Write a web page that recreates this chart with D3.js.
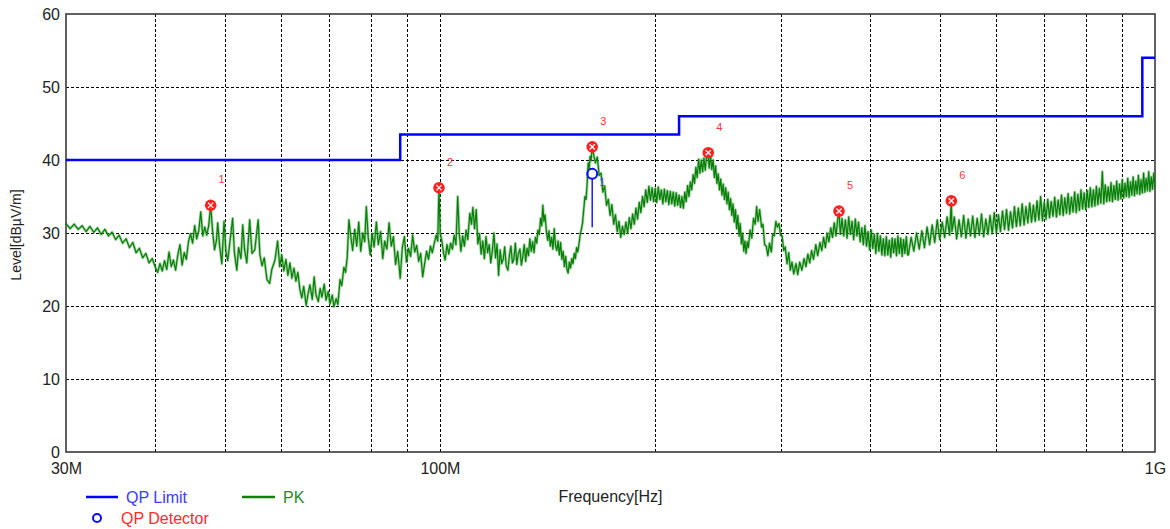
<!DOCTYPE html>
<html>
<head>
<meta charset="utf-8">
<script src="https://cdn.jsdelivr.net/npm/d3@7"></script>
<style>
  html, body { margin: 0; padding: 0; background: #fff; }
  svg { display: block; font-family: "Liberation Sans", Arial, sans-serif; }
</style>
</head>
<body>
<svg id="chart" width="1170" height="529"></svg>
<script>
// ---------- data ----------
const yTickValues = [0, 10, 20, 30, 40, 50, 60];
const xLabelFreqs = [30, 100, 1000];               // MHz
const xLabelTexts = ["30M", "100M", "1G"];
const gridFreqs = [40, 50, 60, 70, 80, 90, 100, 200, 300, 400, 500, 600, 700, 800, 900];

// QP limit (step line), MHz / dBµV/m
const limitFreqs  = [30, 88, 216, 960, 1000];
const limitLevels = [40, 43.5, 46, 54, 54];

// peak markers
const peakFreqs  = [47.8, 99.7, 163.3, 237.3, 361.5, 519];
const peakLevels = [33.8, 36.2, 41.8, 41.0, 33.0, 34.4];

// quasi-peak detector reading
const qpFreqs       = [163.3];
const qpLevels      = [38.1];
const qpStemLevels  = [30.8];

// PK sweep, [MHz, dBµV/m]
const pkTrace = [
  [30.0,31.3],[30.4,30.6],[30.8,31.2],[31.2,30.5],[31.6,31.0],[32.0,30.2],[32.4,30.9],[32.8,30.1],[33.2,30.7],[33.6,29.8],
  [34.0,30.5],[34.4,29.6],[34.8,30.1],[35.2,29.1],[35.6,29.7],[36.0,28.6],[36.4,29.2],[36.8,28.0],[37.2,28.7],[37.6,27.3],
  [38.0,27.9],[38.4,26.6],[38.8,27.2],[39.2,25.9],[39.6,26.5],[40.0,25.3],
  [40.3,24.6],[40.6,25.8],[40.9,24.8],[41.2,26.2],[41.5,25.0],[41.8,27.4],[42.1,25.4],[42.4,26.3],[42.7,24.9],[43.0,27.0],
  [43.3,28.4],[43.6,25.6],[43.9,27.3],[44.2,26.4],[44.5,28.8],[44.8,29.9],[45.1,28.6],[45.4,31.0],[45.7,29.2],[46.0,30.3],
  [46.3,32.9],[46.6,29.6],[46.9,30.8],[47.2,29.7],[47.5,31.0],[47.8,33.8],[48.1,30.2],[48.4,27.7],[48.7,29.0],
  [48.9,31.4],[49.2,28.2],[49.55,25.8],[49.9,31.6],[50.2,27.5],[50.5,26.2],[50.9,29.1],[51.3,32.0],[51.6,27.3],[52.0,24.9],
  [52.3,28.0],[52.7,26.5],[53.0,31.1],[53.3,27.8],[53.7,25.9],[54.0,29.4],[54.2,31.8],[54.6,27.2],[55.1,27.7],[55.4,29.8],
  [55.7,31.8],[56.0,27.1],[56.4,25.5],[56.8,26.6],[57.3,23.6],[57.8,23.1],[58.2,25.0],[58.8,26.3],[59.3,28.9],[59.7,25.4],[60.1,27.0],
  [60.5,24.8],[60.9,26.4],[61.3,24.2],[61.7,25.9],[62.1,23.8],[62.5,25.2],[62.9,23.4],[63.3,24.6],[63.7,22.3],[64.1,21.1],
  [64.5,22.7],[65.0,20.1],[65.4,21.6],[65.8,22.9],[66.3,20.9],[66.7,24.0],[67.1,21.5],[67.6,20.6],[68.0,22.4],[68.4,21.2],
  [68.9,23.0],[69.3,20.8],[69.8,22.0],[70.2,20.3],[70.7,21.5],[71.1,19.9],[71.6,21.0],[72.0,20.2],[72.5,23.6],[72.9,22.8],
  [73.4,25.3],[73.8,24.6],[74.2,26.7],[74.6,31.8],
  [75.0,29.8],[75.5,27.6],[76.0,30.5],[76.5,28.2],[77.0,31.5],[77.5,27.5],[78.0,30.0],[78.5,28.8],[78.9,33.6],[79.4,29.3],
  [79.9,27.0],[80.4,29.9],[80.9,28.1],[81.5,31.5],[82.0,28.4],[82.6,30.2],[83.2,26.5],[83.7,28.9],[84.3,27.8],[84.9,31.4],
  [85.5,28.2],[86.1,29.5],[86.7,25.7],[87.3,27.5],[88.0,23.8],[88.6,28.0],[89.2,29.5],[89.8,26.0],[90.4,27.9],[91.0,26.8],
  [91.6,29.7],[92.2,27.4],[92.8,28.3],[93.4,26.1],[94.0,27.2],[94.6,24.0],[95.2,25.8],[95.8,27.5],[96.4,26.4],[97.0,28.2],
  [97.6,27.3],[98.2,28.6],[98.8,29.7],[99.3,28.9],[99.7,36.2],[100.1,29.9],
  [100.6,29.0],[101.2,27.2],[101.7,26.3],[102.3,28.4],[102.9,27.1],[103.5,28.6],[104.1,27.8],[104.7,29.7],[105.3,28.4],[105.9,35.0],
  [106.4,30.1],[107.0,27.5],[107.6,29.6],[108.2,28.2],[108.8,30.4],[109.4,29.1],[110.1,32.7],[110.7,31.2],[111.2,33.5],[111.8,30.6],
  [112.4,33.2],[113.0,28.5],[113.6,29.9],[114.2,27.1],[114.8,28.9],[115.4,26.5],[116.0,29.5],[116.6,27.3],[117.2,28.4],[117.8,25.9],
  [118.4,27.6],[119.0,30.0],[119.6,26.6],[120.2,28.5],[120.8,24.2],[121.4,27.7],[122.0,25.8],[122.6,26.4],[123.2,28.1],[123.8,25.5],
  [124.5,24.9],[125.1,27.0],[125.7,28.2],[126.3,25.9],[126.9,26.4],[127.5,28.6],[128.1,25.7],[128.7,27.1],[129.4,27.8],[130.0,25.6],
  [130.6,26.8],[131.2,28.4],[131.8,26.1],[132.4,27.9],[133.0,26.9],[133.6,29.2],[134.2,27.5],[134.8,28.8],[135.4,27.3],[136.0,29.4],
  [136.6,28.6],[137.1,30.4],[137.7,29.8],[138.3,32.0],[138.8,31.0],[139.3,33.8],[139.8,31.6],[140.3,32.5],[140.9,30.2],[141.5,29.0],
  [142.1,30.3],[142.7,28.2],[143.3,29.4],[143.9,27.8],[144.5,30.6],[145.1,28.3],[145.7,27.6],[146.3,28.9],[146.9,27.0],[147.5,28.7],
  [148.1,26.4],[148.7,27.5],[149.3,25.4],[149.9,26.8],[150.5,25.1],[151.1,24.5],[151.7,26.0],[152.3,25.2],[152.9,26.5],[153.5,25.8],
  [154.1,27.2],[154.7,26.5],[155.3,28.0],[155.9,27.4],[156.5,28.5],[157.1,29.8],[157.7,30.5],[158.3,31.4],[158.9,33.2],[159.5,35.0],
  [160.1,34.6],[160.6,36.5],[161.2,39.6],[161.7,38.8],[162.2,40.5],[162.7,39.9],[163.3,41.8],
  [164,40.8],[165,39.6],[166,40.4],[167,37.9],[168,38.2],[169,35.6],[170,36.4],[171,33.8],[172,34.6],[173,32.4],
  [174,33.9],[175,31.2],[176,32.5],[177,30.2],[178,31.6],[179,29.4],[180,30.9],[181,29.8],[182,31.5],[183,30.0],
  [184,32.1],[185,30.6],[186,32.6],[187,31.2],[188,33.4],[189,31.9],[190,34.2],[191,32.8],[192,35.0],[193,33.6],
  [194,35.9],[195,34.2],[196,36.4],[197,34.5],[198,36.2],[199,34.3],[200,36.1],[201,34.2],[202,36.3],[203,34.6],
  [204,35.9],[205,34.0],[206,36.0],[207,34.3],[208,35.8],[209,33.9],[210,35.7],[211,34.0],[212,35.6],[213,33.7],
  [214,35.5],[215,33.8],[216,35.2],[217,33.5],[218,35.0],[219,33.4],[220,35.6],[221,34.3],[222,36.5],[223,35.0],
  [224,37.0],[225,35.9],[226,38.0],[227,36.8],[228,39.0],[229,37.6],[230,40.1],[231,38.2],[232,40.0],[233,38.4],
  [234,40.3],[235,38.6],[236,40.5],[237,41.0],[238,38.9],[239,40.6],[240,38.7],
  [241,40.0],[242,37.6],[243,39.2],[244,36.8],[245,38.1],[246,35.9],[247,37.4],[248,35.2],[249,36.7],[250,34.6],
  [251,36.2],[252,34.0],[253,35.6],[254,33.2],[255,34.7],[256,32.4],[257,34.0],[258,31.5],[259,33.2],[260,30.6],
  [261,32.4],[262,29.6],[263,31.3],[264,28.5],[265,30.0],[266,27.5],[267,28.9],[268,27.2],[269,28.8],[270,28.0],
  [271.5,30.4],[273,29.3],[274.5,32.0],[276,31.2],[277.3,33.6],[278.5,31.6],[280,33.2],[281.7,30.8],[283,31.2],[284.5,28.4],
  [286,28.2],[287.5,26.9],[289,28.6],[290.7,27.4],[292,29.8],[293.5,29.6],[295,31.6],[296.3,30.8],[298,31.3],[299.5,29.7],
  [301,29.6],[302.5,27.6],[304,28.1],[305.8,25.8],[307.5,27.3],[309,24.9],[310.7,26.0],[312.5,24.4],[314.7,25.8],[316.5,24.3],
  [318.5,26.0],[320.8,24.9],[323,26.5],[325,25.4],[327,27.1],[329,25.9],[331,27.6],[333,26.4],[335.5,28.4],[337.5,26.9],
  [340,28.7],[342,27.6],[344,29.4],[346,28.0],[348,30.0],[350,28.8],[352,30.7],[354,29.4],[356,31.4],[358,29.6],
  [360,31.9],[361.5,33.0],[363,29.8],[365,32.0],[367,29.6],[369,31.8],[371,29.3],[373,32.2],[375,29.8],[377,31.6],
  [379,29.1],[381,31.9],[383,29.6],[385,31.5],[387,28.8],[389,30.7],[391,28.4],[393,31.0],[395,28.2],[397,30.2],
  [399,27.7],[401,30.4],[403,27.9],[405,29.8],[407,27.2],[409,29.9],[411,27.5],[413,29.6],[415,27.0],[417,29.2],
  [419,26.9],[421,29.5],[423,27.0],[425,29.0],[427,26.7],[429,29.3],[431,27.3],[433,29.2],[435,26.9],[437,29.6],
  [439,27.2],[441,29.3],[443,26.8],[445,29.1],[447,27.2],[449,29.5],[451,27.0],
  [452,27.0],[456,29.4],[460,27.5],[464,30.0],[468,27.8],[472,30.3],[476,28.0],[480,30.8],[484,28.4],[488,31.1],
  [492,28.7],[496,31.8],[500,29.1],[504,31.5],[508,29.4],[512,32.2],[516,29.7],[519,34.4],[520,30.2],[524,32.2],
  [528,29.2],[532,31.8],[536,29.5],[540,32.4],[544,29.3],[548,31.9],[552,29.6],[556,32.3],[560,29.4],[564,32.0],
  [568,29.7],[572,32.6],[576,29.5],[580,31.9],[584,29.8],[588,32.4],[592,29.9],[596,32.8],[600,30.0],[604,32.5],
  [608,30.2],[612,33.0],[616,30.5],[620,33.2],[624,30.4],[628,32.9],[632,30.7],[636,33.6],[640,30.9],[644,33.4],
  [648,31.0],[652,34.0],[656,31.1],[660,33.6],[664,31.4],[668,34.1],[672,31.5],[676,33.8],[680,31.6],[684,34.4],
  [688,31.8],[692,35.0],[696,31.7],[700,34.2],[704,31.9],[708,34.6],[712,32.1],[716,34.3],[720,32.3],[724,34.9],
  [728,32.2],[732,34.5],[736,32.5],[740,35.2],[744,32.4],[748,34.8],[752,32.7],[756,35.4],[760,32.6],[764,34.9],
  [768,32.9],[772,35.6],[776,32.8],[780,35.3],[784,33.1],[788,35.9],[792,33.3],[796,35.5],[800,33.2],[804,35.8],
  [808,33.5],[812,36.2],[816,33.6],[820,35.9],[824,33.7],[828,36.4],[832,33.9],[836,36.1],[840,34.1],[844,38.4],
  [848,34.0],[852,36.6],[856,34.3],[860,36.3],[864,34.4],[868,36.9],[872,34.3],[876,36.5],[880,34.6],[884,37.1],
  [888,34.5],[892,36.7],[896,34.7],[900,37.3],[904,34.8],[908,36.8],[912,35.0],[916,37.5],[920,34.9],[924,37.0],
  [928,35.2],[932,37.7],[936,35.1],[940,37.1],[944,35.4],[948,37.9],[952,35.3],[956,37.3],[960,35.5],[964,38.2],
  [968,35.6],[972,37.5],[976,35.8],[980,38.4],[984,35.7],[988,37.7],[992,36.0],[996,38.2],[1000,36.1]
];

// legend entries
const legendNames = ["QP Limit", "PK", "QP Detector"];

// ---------- layout ----------
const plot = { left: 66, right: 1155, top: 14, bottom: 452 };
const svg = d3.select("#chart");
const FONT = '"Liberation Sans", Arial, sans-serif';

const x = d3.scaleLog().domain([30, 1000]).range([plot.left, plot.right]);
const y = d3.scaleLinear().domain([0, 60]).range([plot.bottom, plot.top]);

svg.append("defs").append("clipPath").attr("id", "plotClip")
  .append("rect")
  .attr("x", plot.left).attr("y", plot.top)
  .attr("width", plot.right - plot.left).attr("height", plot.bottom - plot.top);

// grid lines (dashed)
const grid = svg.append("g").attr("class", "grid");
grid.append("g")
  .attr("transform", `translate(0,${plot.bottom})`)
  .call(d3.axisBottom(x).tickValues(gridFreqs).tickSize(-(plot.bottom - plot.top)).tickFormat(""))
  .call(g => g.select(".domain").remove());
grid.append("g")
  .attr("transform", `translate(${plot.left},0)`)
  .call(d3.axisLeft(y).tickValues(yTickValues.filter(v => v > 0 && v < 60))
        .tickSize(-(plot.right - plot.left)).tickFormat(""))
  .call(g => g.select(".domain").remove());
grid.selectAll("line")
  .attr("stroke", "#000").attr("stroke-width", 1)
  .attr("stroke-dasharray", "3,2").attr("shape-rendering", "crispEdges");

// frame
svg.append("rect")
  .attr("x", plot.left).attr("y", plot.top)
  .attr("width", plot.right - plot.left).attr("height", plot.bottom - plot.top)
  .attr("fill", "none").attr("stroke", "#3a3a3a").attr("stroke-width", 1.6);

// y tick labels
svg.append("g")
  .attr("transform", `translate(${plot.left},0)`)
  .call(d3.axisLeft(y).tickValues(yTickValues).tickSize(0).tickPadding(6))
  .call(g => g.select(".domain").remove())
  .selectAll("text")
  .attr("font-family", FONT).attr("font-size", 16).attr("fill", "#222");

// x tick labels
svg.append("g")
  .attr("transform", `translate(0,${plot.bottom})`)
  .call(d3.axisBottom(x).tickValues(xLabelFreqs).tickSize(0).tickPadding(11)
        .tickFormat((d, i) => xLabelTexts[i]))
  .call(g => g.select(".domain").remove())
  .selectAll("text")
  .attr("font-family", FONT).attr("font-size", 16).attr("fill", "#222");

// axis titles
svg.append("text")
  .attr("x", (plot.left + plot.right) / 2).attr("y", 502)
  .attr("text-anchor", "middle")
  .attr("font-family", FONT).attr("font-size", 16).attr("fill", "#222")
  .text("Frequency[Hz]");
svg.append("text")
  .attr("transform", `translate(21,${(plot.top + plot.bottom) / 2 + 2}) rotate(-90)`)
  .attr("text-anchor", "middle")
  .attr("font-family", FONT).attr("font-size", 14).attr("fill", "#222")
  .text("Level[dBµV/m]");

const marks = svg.append("g").attr("clip-path", "url(#plotClip)");

// PK trace: soft halo underneath, then the trace itself
const line = d3.line().x(d => x(d[0])).y(d => y(d[1]));
marks.append("path")
  .datum(pkTrace)
  .attr("d", line)
  .attr("fill", "none")
  .attr("stroke", "#4aa34a")
  .attr("stroke-opacity", 0.5)
  .attr("stroke-width", 2.8)
  .attr("stroke-linejoin", "round");
marks.append("path")
  .datum(pkTrace)
  .attr("d", line)
  .attr("fill", "none")
  .attr("stroke", "#067f06")
  .attr("stroke-width", 1.2)
  .attr("stroke-linejoin", "round");

// limit line
const limitPts = limitFreqs.map((f, i) => [f, limitLevels[i]]);
marks.append("path")
  .datum(limitPts)
  .attr("d", d3.line().x(d => x(d[0])).y(d => y(d[1])).curve(d3.curveStepAfter))
  .attr("fill", "none")
  .attr("stroke", "#0000ff")
  .attr("stroke-width", 2.5);

// QP detector
qpFreqs.forEach((f, i) => {
  svg.append("line")
    .attr("x1", x(f)).attr("x2", x(f))
    .attr("y1", y(qpLevels[i]) + 5).attr("y2", y(qpStemLevels[i]))
    .attr("stroke", "#1a1aff").attr("stroke-width", 1.5);
  svg.append("circle")
    .attr("cx", x(f)).attr("cy", y(qpLevels[i])).attr("r", 5)
    .attr("fill", "none").attr("stroke", "#0a0aff").attr("stroke-width", 2);
  svg.append("text")
    .attr("x", x(f) + 7).attr("y", y(qpLevels[i]) + 12)
    .attr("font-family", FONT).attr("font-size", 11).attr("fill", "#4a4aff")
    .text(i + 1);
});

// peak markers
peakFreqs.forEach((f, i) => {
  const cx = x(f), cy = y(peakLevels[i]);
  const g = svg.append("g").attr("transform", `translate(${cx},${cy})`);
  g.append("circle").attr("r", 5.8).attr("fill", "#ff2020");
  g.append("path")
    .attr("d", "M-2.6,-2.6L2.6,2.6M2.6,-2.6L-2.6,2.6")
    .attr("stroke", "#fff").attr("stroke-width", 1.3);
  svg.append("text")
    .attr("x", cx + 11).attr("y", cy - 22)
    .attr("text-anchor", "middle")
    .attr("font-family", FONT).attr("font-size", 11).attr("fill", "#f03a3a")
    .text(i + 1);
});

// legend
const lg = svg.append("g");
lg.append("line").attr("x1", 86).attr("x2", 118).attr("y1", 497).attr("y2", 497)
  .attr("stroke", "#0000ff").attr("stroke-width", 2.5);
lg.append("text").attr("x", 126).attr("y", 503)
  .attr("font-family", FONT).attr("font-size", 16).attr("fill", "#3a3aff").text(legendNames[0]);
lg.append("line").attr("x1", 242).attr("x2", 275).attr("y1", 497).attr("y2", 497)
  .attr("stroke", "#0a820a").attr("stroke-width", 2.5);
lg.append("text").attr("x", 283).attr("y", 503)
  .attr("font-family", FONT).attr("font-size", 16).attr("fill", "#1f8a1f").text(legendNames[1]);
lg.append("circle").attr("cx", 97).attr("cy", 518).attr("r", 4)
  .attr("fill", "none").attr("stroke", "#0a0aff").attr("stroke-width", 2);
lg.append("text").attr("x", 121).attr("y", 524)
  .attr("font-family", FONT).attr("font-size", 16).attr("fill", "#ff2a2a").text(legendNames[2]);
</script>
</body>
</html>
